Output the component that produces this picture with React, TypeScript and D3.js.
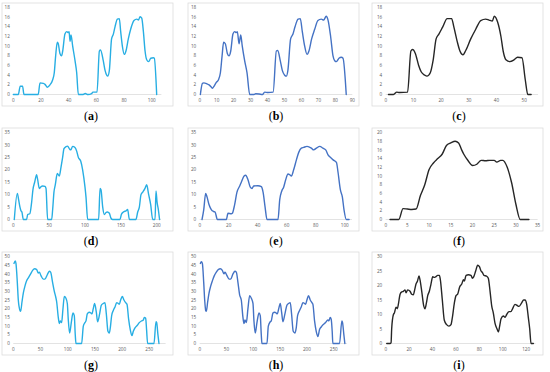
import * as React from 'react';
import * as d3 from 'd3';

// speed profiles, as [sample, value] pairs
const profileA: [number, number][] = [
  [0, 0], [3.6, 0], [5, 1.7], [6.7, 1.7], [7.7, 0], [18, 0], [19.3, 2.4], [21.7, 2.3], [22.9, 2.1],
  [24.6, 1.5], [26.5, 2.0], [28.4, 3.0], [29.6, 4.5], [30.6, 8], [31.8, 10.8], [32.5, 10.5], [33.7, 8.5],
  [34.9, 8.0], [35.7, 9], [37.3, 12.5], [38.6, 13.0], [39.8, 12.8], [40.3, 13], [41, 11], [41.7, 12.3],
  [42.9, 10], [44.6, 7], [45.8, 4.5], [47, 0], [50, 0], [52, 0.2], [54, 0], [56.6, 0.2], [57.5, 0.5],
  [60.5, 0.5], [62.2, 9.0], [63, 9.2], [65, 7], [66.3, 5], [67.5, 4], [68.2, 3.8], [69.4, 5], [71, 11.5],
  [72.3, 12.5], [73.5, 14], [75.2, 15.6], [76.6, 15.7], [77.6, 13], [78.8, 10], [80.2, 8.3], [81.4, 9],
  [83.1, 11.5], [84.8, 13.5], [87.2, 15.3], [89.2, 15.6], [90.4, 15.4], [91.6, 16.1], [92.8, 15.8],
  [94, 13], [95.2, 9], [96.4, 7.2], [97.8, 6.8], [99.3, 7.5], [101.2, 7.6], [101.9, 7.5], [103.6, 0],
];

const profileB: [number, number][] = [
  [0.4, 0], [1.6, 2.3], [2.4, 2.4], [4.3, 2.2], [5.5, 2.0], [6.9, 1.5], [7.5, 1.3], [8.4, 1.7], [9.8, 2.5],
  [11, 3.0], [12.2, 4.5], [13.2, 8], [14.1, 10.8], [15.1, 10.5], [16.3, 8.5], [17.3, 8], [18.3, 9],
  [19.6, 12.5], [20.6, 13], [21.6, 12.8], [22.2, 13], [23.2, 10.5], [24.2, 12.3], [25.1, 10], [26.5, 7],
  [27.9, 4.5], [29.5, 0], [32, 0], [33, 0.15], [35, 0.1], [37, 0], [38.3, 0.5], [40.3, 0.4], [43.3, 0.5],
  [45.2, 9], [46, 9.1], [47.5, 7], [48.7, 5], [50.1, 4], [51.1, 3.8], [52, 5], [53.6, 11.5], [55, 12.5],
  [56.2, 14], [58, 15.6], [59.3, 15.7], [60.5, 13], [61.9, 10], [63.3, 8.3], [64.4, 9], [66, 11.5],
  [67.8, 13.5], [69.7, 15.3], [71.7, 15.6], [73.1, 15.4], [74.6, 16.2], [75.6, 15.5], [77.2, 12],
  [78.6, 8], [79.6, 7], [80.6, 6.8], [82.1, 7.5], [83.5, 7.7], [84.5, 7.5], [86.4, 0],
];

const profileC: [number, number][] = [
  [1, 0], [2.8, 0], [4, 0.5], [5, 0.4], [7.9, 0.5], [9.1, 9], [9.7, 9.3], [10.7, 8.5], [11.9, 6],
  [12.8, 4.7], [14.1, 4], [14.9, 3.8], [16.1, 4.5], [17.1, 7], [18.2, 11.5], [19.2, 12.5], [20.6, 14],
  [22.2, 15.7], [23.8, 15.7], [24.6, 14], [25.8, 11], [26.8, 9], [27.9, 8.2], [28.8, 9], [30.7, 11.5],
  [32.5, 13.5], [34.3, 15.3], [36.1, 15.6], [37.3, 15.4], [38.5, 15.2], [39.2, 16.2], [40.4, 15],
  [41.6, 12], [42.4, 9], [43.4, 7.2], [44.8, 6.8], [46.4, 7.2], [47.6, 7.7], [49.2, 7.6], [50.4, 3],
  [51.3, 0], [52.5, 0],
];

const profileD: [number, number][] = [
  [1.4, 0], [5.6, 10.5], [7.4, 8], [9.3, 5], [10.7, 3.5], [12, 3], [14, 0], [18.6, 0], [20, 2], [23, 2.3],
  [25.6, 7], [27.4, 12], [29.8, 15], [32.6, 18], [34, 16], [36.3, 12.5], [38, 13], [40.9, 13.5],
  [44.2, 13.3], [45.6, 12.5], [47.9, 0], [53.5, 0], [54.9, 4], [56.7, 11], [58.6, 14], [61.4, 18.5],
  [64.2, 17.5], [66.5, 21], [68.8, 25], [70.7, 28.5], [73.5, 29.3], [75.8, 29.5], [78.1, 28.5], [80, 28],
  [82.8, 29.4], [86, 29], [88.4, 27.5], [90.7, 25], [94, 23.5], [96.7, 20], [100, 13], [101.4, 9],
  [103.7, 0], [119, 0], [121, 12.5], [122.3, 12], [124.7, 5], [127, 2], [129.3, 2.8], [131.2, 3],
  [134, 2.5], [136.3, 0.5], [138.6, 0], [148.8, 0], [150.7, 2], [153.5, 3], [157.2, 3.5], [159.5, 4],
  [161.9, 0], [171, 0], [173.5, 3], [175.8, 5], [178.1, 10], [180.5, 11], [183.7, 12.5], [186, 14],
  [188.8, 10], [191.6, 6], [194.4, 0], [197.7, 0], [199, 11.5], [200.5, 7], [202.3, 4], [204, 0],
];

const profileE: [number, number][] = [
  [1.6, 0], [2.8, 4], [4.1, 10.5], [5.1, 9], [6.4, 6], [8, 4], [9.7, 3.2], [10.6, 3], [12.2, 0], [18.4, 0],
  [19.5, 2.5], [21.8, 2.3], [22.5, 2.5], [24.1, 6], [25.7, 11], [27.6, 13.5], [28.7, 15], [30.6, 17.5],
  [31.7, 17.8], [33.3, 16], [34.9, 13], [36.1, 12.5], [37.2, 13.5], [40.2, 13.6], [42.5, 13.2],
  [43.7, 11], [45.1, 5], [46.4, 0], [54, 0], [55.2, 8], [56.6, 11.5], [57.9, 13], [59.3, 16],
  [60.9, 18.3], [62.1, 18], [63.2, 17.5], [64.8, 20], [66.7, 24], [68.3, 27], [70.1, 28.7], [71.7, 29],
  [74, 29.4], [77, 28.7], [78.6, 28], [80.5, 28.7], [82.8, 29.4], [85, 28.7], [86.9, 28], [88.5, 26],
  [90.1, 25], [92, 24], [94.3, 23], [95.4, 19], [97, 12], [98.4, 9], [99.5, 4], [101.1, 0], [103, 0],
];

const profileF: [number, number][] = [
  [1, 0], [2, 0], [3, 0], [4, 2.5], [5, 2.4], [6, 2.3], [7, 2.4], [8, 5.5], [9, 8], [10, 11.5], [11, 13],
  [12, 14], [13, 15], [14, 17], [15, 17.6], [16, 18], [16.8, 17.6], [17.5, 16], [18, 15], [19, 13.5],
  [20, 12.4], [21, 12.7], [22, 13.6], [23, 13.5], [24, 13.6], [25, 13.6], [25.6, 13.2], [26.5, 13.6],
  [27, 13.6], [28, 12], [29, 8.5], [30, 3.5], [31, 0], [32, 0], [33, 0],
];

const profileG: [number, number][] = [
  [1.2, 46], [3.7, 47.5], [4.9, 46], [7.4, 35], [9.2, 25], [12.3, 19], [13.5, 18.5], [16, 24], [18.4, 29],
  [21.4, 33], [24.5, 36], [28.2, 38], [31.9, 40], [35.5, 42], [39.2, 43], [42.9, 42.5], [46, 40.5],
  [47.8, 41], [50.9, 39], [55.1, 37], [58.2, 37], [62.5, 39.5], [66.2, 41.5], [68.6, 41], [72.3, 35],
  [75.4, 30], [77.8, 27], [79.7, 24], [82.7, 15], [84.6, 11.5], [86.4, 13], [88.8, 12], [91.3, 20],
  [93.8, 27], [96.8, 26], [99.3, 23], [101, 14], [103.6, 6], [106.6, 12], [109.7, 17.5], [112.1, 16],
  [113.9, 5], [115.2, 0], [125.6, 0], [128.7, 10], [131.7, 12], [133.6, 13], [136, 17], [139.7, 18],
  [142.8, 17.5], [144.6, 17], [147, 20], [149.5, 23], [152.6, 18], [155, 12.5], [158.7, 17], [161.8, 22],
  [165.4, 23], [168.5, 23.5], [171, 17], [174, 7], [176.5, 6], [178.3, 9], [180.8, 16], [183.8, 19],
  [186.9, 21], [190, 23.5], [193, 23], [194.9, 22.5], [197.3, 25], [200.4, 27], [203.4, 25],
  [206.5, 23.5], [209, 22.5], [212, 14], [215, 8], [218.1, 4.5], [220.6, 7], [223.7, 9], [228, 10.5],
  [231.6, 12], [235.9, 13], [239, 13.5], [240.8, 15], [243.3, 14.5], [245, 8], [246.9, 0], [258.6, 0],
  [262.3, 12.5], [263.5, 12], [265.9, 5], [267.8, 0],
];

const profileH: [number, number][] = [
  [1.2, 46], [3.1, 47], [5, 46], [7.5, 35], [9.3, 25], [11.2, 19], [12.4, 18.5], [14.9, 24], [17.4, 29],
  [20.5, 33], [23.6, 36], [27.3, 39], [31, 41], [34.8, 42.5], [38.5, 43], [42.2, 42], [45.3, 40],
  [47.2, 41], [50.9, 39], [54.7, 37], [57.8, 37], [62.1, 40], [65.8, 41.5], [68.3, 41], [71.4, 35],
  [74.5, 28], [77.6, 25], [80.7, 15], [82.6, 11.5], [84.5, 13.5], [87, 12], [90, 20], [93.2, 27.5],
  [96.3, 26], [99.4, 23], [101.2, 13], [103.7, 6], [106.8, 12], [110.6, 17.5], [113, 16], [114.9, 5],
  [116.1, 0], [125.5, 0], [128, 10], [131.7, 12.5], [133.5, 13], [136.6, 17.5], [139.8, 18],
  [142.9, 17.5], [144.7, 17], [147.8, 20.5], [150.3, 23], [152.8, 18], [155.3, 12.5], [159, 17],
  [162.7, 22], [165.8, 23], [169, 23.5], [171.4, 17], [174.5, 7], [177.6, 6], [180.1, 9], [182.6, 16],
  [186.3, 19], [189.4, 21], [192.5, 23.5], [195.7, 23], [197.5, 22.5], [200, 25], [203.1, 27.5],
  [206.2, 25], [209.3, 23.5], [211.2, 22.5], [214.3, 13], [217.4, 7], [220.5, 4], [223.6, 8],
  [226.7, 9.5], [231, 11], [234.8, 12], [239.1, 13.5], [241, 13], [243.5, 15], [245.3, 14], [247.2, 7],
  [248.4, 0], [260.9, 0], [265.2, 13], [266.5, 12], [269, 5], [270.8, 0],
];

const profileI: [number, number][] = [
  [0.9, 0], [3.7, 0], [4.6, 0.3], [5.1, 5], [6.6, 10], [7.4, 10.5], [8.8, 12.5], [10, 12], [10.8, 13.5],
  [12.3, 17], [13.7, 17.8], [15.1, 18], [16.5, 18.5], [17.4, 17.5], [18.8, 18.5], [20.8, 18], [22.2, 17],
  [23.6, 16.8], [24.5, 18], [25.9, 20.5], [27.1, 21.5], [28.5, 23.3], [29.3, 22], [30.8, 18], [32.5, 13],
  [33.6, 12], [34.8, 14], [35.9, 16.5], [37.3, 18], [38.7, 20.5], [40.2, 23], [41.6, 22.8], [42.7, 23],
  [44.4, 23.5], [45.9, 23.5], [46.7, 22], [48.4, 15], [50.1, 8], [52.1, 6.5], [54.1, 6], [55.8, 6.5],
  [57, 9], [58.7, 14], [60.1, 16.5], [61.5, 17], [63.2, 19.5], [65, 20.5], [66.4, 22], [67.2, 21.5],
  [68.7, 23.5], [70.7, 23.7], [72.9, 23.5], [74.1, 22.5], [75.2, 23], [76.9, 25], [78.6, 27],
  [80.1, 26.5], [81.5, 25], [82.6, 24.5], [84, 23.5], [86.3, 23.2], [87.7, 22.5], [89.2, 18], [90.6, 13],
  [92, 10.5], [93.4, 7], [95.2, 5], [96.3, 4], [97.4, 6], [98.6, 8.5], [100.6, 9.5], [102, 9], [103.4, 10],
  [105.4, 11], [107, 11], [108.5, 12], [110.5, 13.5], [112.8, 13], [114, 12.8], [116.2, 14], [117.9, 15],
  [119.1, 15], [120.5, 13.5], [121.9, 9], [123.1, 5], [124.2, 0], [126.2, 0],
];

// tick labels
const ticks0to100by20 = [0, 20, 40, 60, 80, 100];
const ticks0to90by10 = [0, 10, 20, 30, 40, 50, 60, 70, 80, 90];
const ticks0to50by10 = [0, 10, 20, 30, 40, 50];
const ticks0to200by50 = [0, 50, 100, 150, 200];
const ticks0to35by5 = [0, 5, 10, 15, 20, 25, 30, 35];
const ticks0to250by50 = [0, 50, 100, 150, 200, 250];
const ticks0to120by20 = [0, 20, 40, 60, 80, 100, 120];
const ticks0to18by2 = [0, 2, 4, 6, 8, 10, 12, 14, 16, 18];
const ticks0to20by2 = [0, 2, 4, 6, 8, 10, 12, 14, 16, 18, 20];
const ticks0to30by5 = [0, 5, 10, 15, 20, 25, 30];
const ticks0to50by5 = [0, 5, 10, 15, 20, 25, 30, 35, 40, 45, 50];

const panelLetters = ['a', 'b', 'c', 'd', 'e', 'f', 'g', 'h', 'i'];

const CYAN = '#27aee3';
const BLUE = '#4472c4';
const DARK = '#262626';

const colFrameX = [2, 188, 372];
const colPlotX = [13.3, 199.7, 385.7];
const colLabelX = [91, 276, 459];
const rowFrameY = [3, 128, 252];
const FRAME_W = 171;
const FRAME_H = 103;
const PLOT_TOP = 4.5;
const PLOT_BOTTOM = 91.5;

interface Panel {
  data: [number, number][];
  color: string;
  xMax: number;
  pxPerUnit: number;
  xTicks: number[];
  yTicks: number[];
}

const panels: Panel[] = [
  { data: profileA, color: CYAN, xMax: 107, pxPerUnit: 1.384, xTicks: ticks0to100by20, yTicks: ticks0to18by2 },
  { data: profileB, color: BLUE, xMax: 90, pxPerUnit: 1.696, xTicks: ticks0to90by10, yTicks: ticks0to18by2 },
  { data: profileC, color: DARK, xMax: 55, pxPerUnit: 2.77, xTicks: ticks0to50by10, yTicks: ticks0to18by2 },
  { data: profileD, color: CYAN, xMax: 206, pxPerUnit: 0.717, xTicks: ticks0to200by50, yTicks: ticks0to35by5 },
  { data: profileE, color: BLUE, xMax: 105, pxPerUnit: 1.45, xTicks: ticks0to100by20, yTicks: ticks0to35by5 },
  { data: profileF, color: DARK, xMax: 35, pxPerUnit: 4.34, xTicks: ticks0to35by5, yTicks: ticks0to20by2 },
  { data: profileG, color: CYAN, xMax: 280, pxPerUnit: 0.544, xTicks: ticks0to250by50, yTicks: ticks0to50by5 },
  { data: profileH, color: BLUE, xMax: 275, pxPerUnit: 0.536, xTicks: ticks0to250by50, yTicks: ticks0to50by5 },
  { data: profileI, color: DARK, xMax: 128, pxPerUnit: 1.17, xTicks: ticks0to120by20, yTicks: ticks0to30by5 },
];

function MiniChart({ panel, index }: { panel: Panel; index: number }) {
  const col = index % 3;
  const row = Math.floor(index / 3);
  const fx = colFrameX[col];
  const fy = rowFrameY[row];
  const x0 = colPlotX[col];

  const x = d3.scaleLinear().domain([0, panel.xMax]).range([x0, x0 + panel.xMax * panel.pxPerUnit]);
  const yMax = panel.yTicks[panel.yTicks.length - 1];
  const y = d3.scaleLinear().domain([0, yMax]).range([fy + PLOT_BOTTOM, fy + PLOT_TOP]);

  const line = d3.line<[number, number]>()
    .x((d) => x(d[0]))
    .y((d) => y(d[1]))
    .curve(d3.curveMonotoneX);

  return (
    <g>
      <rect x={fx} y={fy} width={FRAME_W} height={FRAME_H} fill="#fff" stroke="#d9d9d9" strokeWidth={0.75} />
      <line x1={x(0)} x2={x(panel.xMax)} y1={y(0)} y2={y(0)} stroke="#d9d9d9" strokeWidth={0.75} />
      {panel.yTicks.map((t) => (
        <text key={'y' + t} x={x0 - 3.5} y={y(t)} dy="0.35em" textAnchor="end"
          fontSize={4.6} fill="#595959" fontFamily="'Open Sans', sans-serif">{t}</text>
      ))}
      {panel.xTicks.map((t) => (
        <text key={'x' + t} x={x(t)} y={y(0) + 7} textAnchor="middle"
          fontSize={4.6} fill="#595959" fontFamily="'Open Sans', sans-serif">{t}</text>
      ))}
      <path d={line(panel.data) || ''} fill="none" stroke={panel.color} strokeWidth={1.4}
        strokeLinejoin="round" strokeLinecap="round" />
      <text x={colLabelX[col]} y={fy + FRAME_H + 14} textAnchor="middle" fontSize={12}
        fontFamily="'Liberation Serif', 'Times New Roman', serif" fill="#000">
        (<tspan fontWeight="bold">{panelLetters[index]}</tspan>)
      </text>
    </g>
  );
}

export default function App() {
  return (
    <svg width={550} height={372} style={{ position: 'absolute', left: 0, top: 0, background: '#fff' }}>
      <rect width={550} height={372} fill="#fff" />
      {panels.map((p, i) => <MiniChart key={i} panel={p} index={i} />)}
    </svg>
  );
}
